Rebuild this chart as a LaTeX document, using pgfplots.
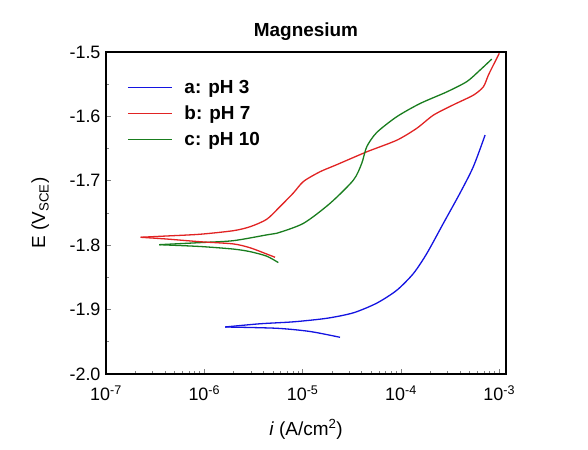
\documentclass[border=0pt]{standalone}
\usepackage{fontspec}
\setmainfont{Liberation Sans}
\usepackage{pgfplots}
\pgfplotsset{compat=1.18}

\definecolor{phthree}{RGB}{20,20,225}
\definecolor{phseven}{RGB}{225,35,35}
\definecolor{phten}{RGB}{25,125,30}

\begin{document}
\begin{tikzpicture}
\begin{axis}[
  scale only axis, width=400bp, height=322bp,
  xmode=log, xmin=1e-7, xmax=1.17e-3,
  ymin=-2.0, ymax=-1.5,
  xtick={1e-7,1e-6,1e-5,1e-4,1e-3},
  xticklabels={10\textsuperscript{-7},10\textsuperscript{-6},10\textsuperscript{-5},10\textsuperscript{-4},10\textsuperscript{-3}},
  ytick={-2.0,-1.9,-1.8,-1.7,-1.6,-1.5},
  yticklabels={-2.0,-1.9,-1.8,-1.7,-1.6,-1.5},
  minor y tick num=1,
  xtick pos=bottom, ytick pos=left,
  tick align=inside,
  major tick length=5bp, minor tick length=3bp,
  tick style={line width=0.9bp},
  axis line style={line width=1.7bp},
  ticklabel style={font=\fontsize{18}{21}\selectfont},
  xticklabel style={yshift=-8bp},
  yticklabel style={xshift=-2bp},
  title={\bfseries Magnesium},
  title style={font=\fontsize{19}{22}\selectfont, at={(axis description cs:0.5,1.03)}, anchor=base},
  xlabel={\textit{i} (A/cm\textsuperscript{2})},
  xlabel style={font=\fontsize{19}{22}\selectfont, at={(axis description cs:0.5,-0.19)}, anchor=base},
  ylabel={E (V\textsubscript{SCE})},
  ylabel style={font=\fontsize{19}{22}\selectfont, at={(axis description cs:-0.152,0.5)}, anchor=base, rotate=0},
  legend style={draw=none, fill=none, at={(axis description cs:0.0525,0.958)}, anchor=north west,
    inner sep=0pt, row sep=7bp, font=\bfseries\fontsize{19}{22}\selectfont},
  legend cell align=left,
  legend image code/.code={%
    \draw[#1, draw opacity=0] (0bp,0bp) -- (0.01bp,0bp);
    \draw[#1, line width=1.3bp] (0bp,0bp) -- (44bp,0bp);
    \draw[#1, draw opacity=0] (44bp,0bp) -- (54bp,0bp);},
]
% empty first legend row: the first cell of the legend loses its line style
\addlegendimage{empty legend}
\addlegendentry{}
% upper (anodic) branches
\addplot[color=phthree, line width=1.3bp, smooth, tension=0.45] coordinates {
  (1.63e-6,-1.927) (3.69e-6,-1.922) (8.04e-6,-1.919) (1.76e-5,-1.9135)
  (3.28e-5,-1.905) (5.67e-5,-1.890) (9.06e-5,-1.870) (1.337e-4,-1.844)
  (1.83e-4,-1.813) (2.70e-4,-1.766) (3.99e-4,-1.719) (5.45e-4,-1.678)
  (7.17e-4,-1.629)
};
\addlegendentry{a: pH 3}
\addplot[color=phseven, line width=1.3bp, smooth, tension=0.45] coordinates {
  (2.25e-7,-1.7877) (4.14e-7,-1.7857) (9.04e-7,-1.783) (1.97e-6,-1.7775)
  (2.92e-6,-1.7713) (4.31e-6,-1.7598) (5.89e-6,-1.740) (8.04e-6,-1.719)
  (1.02e-5,-1.701) (1.50e-5,-1.686) (2.22e-5,-1.675) (4.49e-5,-1.655)
  (9.06e-5,-1.637) (1.447e-4,-1.6185) (2.14e-4,-1.598) (3.41e-4,-1.582)
  (5.45e-4,-1.567) (6.89e-4,-1.554) (7.74e-4,-1.536) (9.06e-4,-1.515)
  (1.00e-3,-1.502)
};
\addlegendentry{b: pH 7}
\addplot[color=phten, line width=1.3bp, smooth, tension=0.45] coordinates {
  (3.48e-7,-1.7992) (9.04e-7,-1.796) (1.97e-6,-1.793) (4.31e-6,-1.784)
  (5.45e-6,-1.7815) (1.02e-5,-1.766) (1.90e-5,-1.735) (3.28e-5,-1.699)
  (3.99e-5,-1.673) (4.49e-5,-1.647) (5.67e-5,-1.625) (9.06e-5,-1.6005)
  (1.564e-4,-1.580) (2.92e-4,-1.562) (4.67e-4,-1.546) (6.38e-4,-1.528)
  (8.39e-4,-1.511)
};
\addlegendentry{c: pH 10}
% lower (cathodic) branches
\addplot[color=phthree, line width=1.3bp, smooth, tension=0.45, forget plot] coordinates {
  (1.63e-6,-1.927) (5.45e-6,-1.929) (1.19e-5,-1.934) (2.40e-5,-1.943)
};
\addplot[color=phseven, line width=1.3bp, smooth, tension=0.45, forget plot] coordinates {
  (2.25e-7,-1.7877) (4.14e-7,-1.7904) (9.04e-7,-1.7946) (1.97e-6,-1.798)
  (2.92e-6,-1.804) (4.31e-6,-1.8137) (5.24e-6,-1.8188)
};
\addplot[color=phten, line width=1.3bp, smooth, tension=0.45, forget plot] coordinates {
  (3.48e-7,-1.7992) (9.04e-7,-1.802) (1.97e-6,-1.806) (2.92e-6,-1.810)
  (4.31e-6,-1.817) (5.66e-6,-1.827)
};
\end{axis}
\pgfresetboundingbox
\path (-106bp,-76bp) rectangle (482bp,374bp);
\end{tikzpicture}
\end{document}
